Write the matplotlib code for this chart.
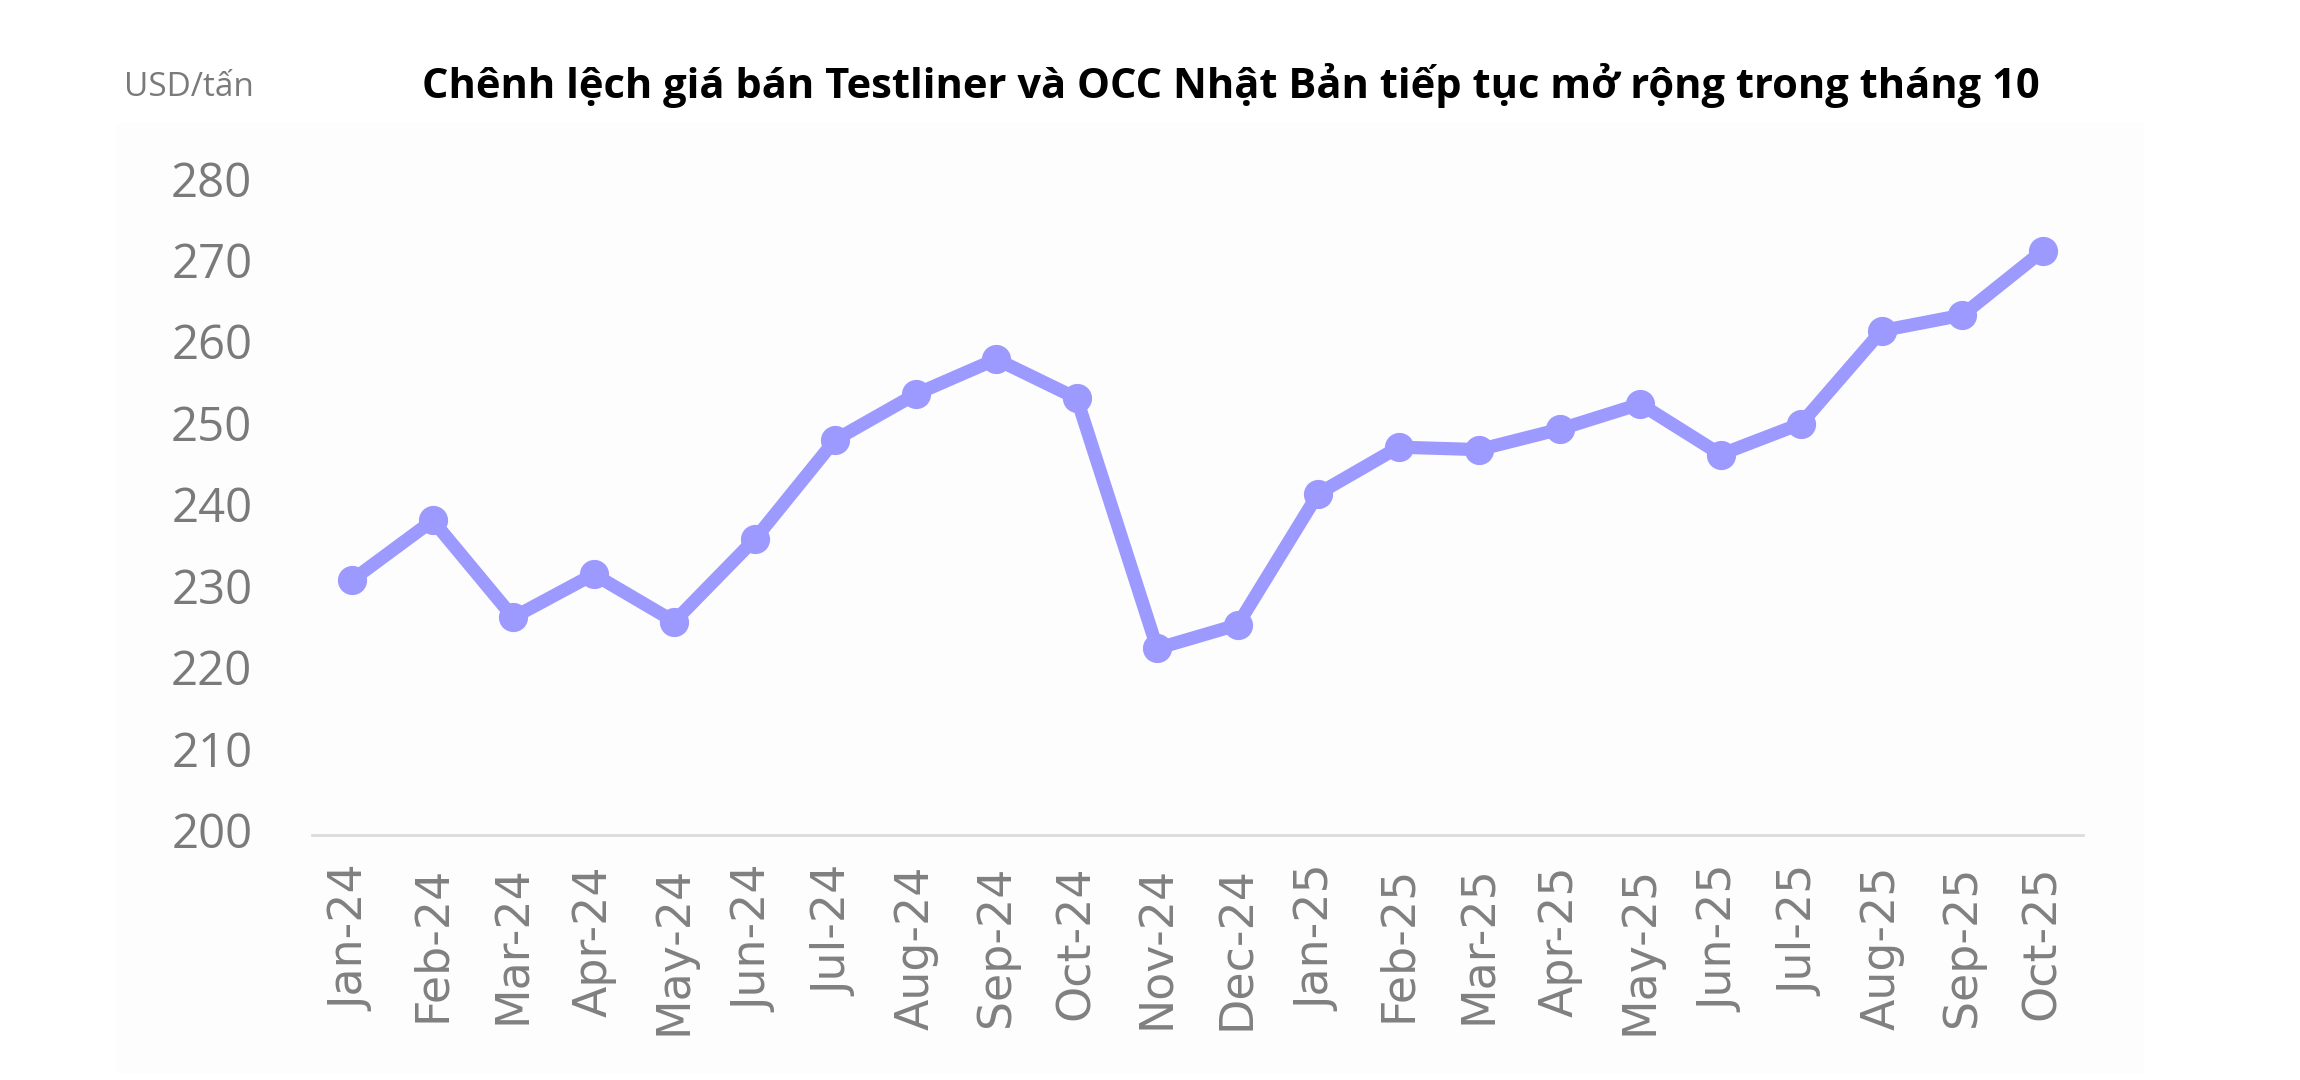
import matplotlib.pyplot as plt
from matplotlib.patches import Rectangle

# chenh lech gia Testliner - OCC Nhat Ban (USD/tan)
months = ['Jan-24', 'Feb-24', 'Mar-24', 'Apr-24', 'May-24', 'Jun-24', 'Jul-24',
          'Aug-24', 'Sep-24', 'Oct-24', 'Nov-24', 'Dec-24', 'Jan-25', 'Feb-25',
          'Mar-25', 'Apr-25', 'May-25', 'Jun-25', 'Jul-25', 'Aug-25', 'Sep-25',
          'Oct-25']
spread = [230.7, 238.0, 226.1, 231.4, 225.6, 235.7, 247.9, 253.5, 257.8, 253.0,
          222.3, 225.2, 241.3, 247.0, 246.7, 249.2, 252.3, 246.1, 249.9, 261.3,
          263.2, 271.1]
yticks = [200, 210, 220, 230, 240, 250, 260, 270, 280]

W, H = 2300, 1080
fig = plt.figure(figsize=(23, 10.8), dpi=100)

# light panel behind the chart
fig.patches.append(Rectangle((117 / W, 1 - 1072 / H), (2142 - 117) / W, (1072 - 123) / H,
                             transform=fig.transFigure, color='#fdfdfe', zorder=-10))

ax = fig.add_axes([312 / W, 1 - 835 / H, (2083 - 312) / W, 673 / H])
ax.set_facecolor('none')

x = list(range(len(months)))
ax.plot(x, spread, color='#9c99ff', lw=9.5, marker='o', ms=20,
        solid_joinstyle='round', solid_capstyle='round')

ax.set_xlim(-0.5, len(months) - 0.5)
ax.set_ylim(199.4, 282)
ax.set_yticks(yticks)
ax.set_xticks(x)
ax.set_xticklabels(months, rotation=90, fontsize=33, color='#808080',
                   family=['DejaVu Sans'])
ax.set_yticklabels([str(v) for v in yticks], fontsize=34, color='#7a7a7a',
                   family=['Open Sans', 'DejaVu Sans'])
ax.tick_params(axis='x', length=0, pad=22)
ax.tick_params(axis='y', length=0, pad=43)

for s in ['top', 'right', 'left']:
    ax.spines[s].set_visible(False)
ax.spines['bottom'].set_color('#dcdcdc')
ax.spines['bottom'].set_linewidth(2)

fig.text(1231 / W, 1 - 86 / H,
         'Chênh lệch giá bán Testliner và OCC Nhật Bản tiếp tục mở rộng trong tháng 10',
         ha='center', va='center', fontsize=30, fontweight='bold', color='black',
         family=['Open Sans', 'DejaVu Sans'])
fig.text(189 / W, 1 - 88 / H, 'USD/tấn', ha='center', va='center', fontsize=24,
         color='#7a7a7a', family=['Open Sans', 'DejaVu Sans'])

fig.savefig('out.png', dpi=100)
